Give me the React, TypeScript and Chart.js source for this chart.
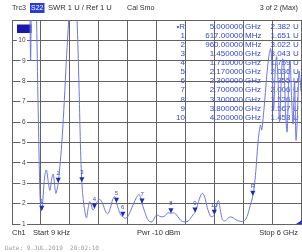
import React, { useEffect, useRef } from "react";
import { Chart, registerables } from "chart.js";

Chart.register(...registerables);

// ---- data ----
const traceFreqGHz = [
  0.0, 0.331, 0.368, 0.387, 0.4, 0.434, 0.486, 0.511, 0.548, 0.579, 0.6, 0.617,
  0.638, 0.672, 0.714, 0.751, 0.786, 0.824, 0.855, 0.886, 0.91, 0.935, 0.96,
  0.993, 1.035, 1.076, 1.117, 1.152, 1.179, 1.21, 1.262, 1.314, 1.351, 1.393, 1.424, 1.45,
  1.479, 1.514, 1.547, 1.579, 1.614, 1.645, 1.676, 1.71,
  1.759, 1.821, 1.883, 1.935, 1.986, 2.038, 2.09, 2.131, 2.17,
  2.214, 2.255, 2.3, 2.348, 2.4, 2.462, 2.524, 2.586, 2.638, 2.669, 2.7,
  2.741, 2.793, 2.855, 2.907, 2.959, 3.01, 3.062, 3.124, 3.186, 3.238, 3.3,
  3.352, 3.414, 3.476, 3.538, 3.6, 3.662, 3.714, 3.755, 3.8,
  3.848, 3.9, 3.952, 4.003, 4.055, 4.097, 4.138, 4.169, 4.2,
  4.241, 4.289, 4.324, 4.372, 4.428, 4.49, 4.535, 4.593, 4.655, 4.717, 4.779, 4.841, 4.893, 4.945, 5.0,
  5.038, 5.069, 5.1, 5.131, 5.162, 5.183, 5.214, 5.245, 5.276, 5.307, 5.338, 5.369, 5.4,
  5.431, 5.462, 5.493, 5.524, 5.555, 5.587, 5.618, 5.649, 5.68, 5.711, 5.742, 5.773,
  5.804, 5.835, 5.866, 5.897, 5.928, 5.959, 6.0,
];
const traceSWR = [
  14, 14, 12, 9.0, 11.5, 14, 14, 11, 6, 2.6, 1.75, 1.651,
  2.1, 3.2, 3.65, 3.1, 2.65, 3.2, 3.45, 2.9, 2.5, 2.7, 3.022,
  3.8, 5.0, 6.6, 8.5, 10.0, 11.0, 12, 13, 12.5, 11, 7.6, 4.6, 3.043,
  2.2, 1.6, 1.3, 1.75, 2.1, 1.95, 1.7, 1.759,
  2.05, 2.2, 2.0, 1.65, 1.5, 1.75, 2.2, 2.35, 2.036,
  1.7, 1.45, 1.355, 1.28, 1.35, 1.65, 2.0, 2.3, 2.45, 2.3, 2.006,
  1.7, 1.35, 1.12, 1.1, 1.3, 1.45, 1.38, 1.35, 1.42, 1.55, 1.526,
  1.55, 1.45, 1.25, 1.12, 1.1, 1.15, 1.3, 1.45, 1.567,
  1.9, 2.3, 2.5, 2.3, 1.8, 1.5, 1.35, 1.38, 1.453,
  1.9, 2.15, 1.7, 1.2, 1.15, 1.3, 1.35, 1.3, 1.2, 1.15, 1.12, 1.2, 1.45, 1.9, 2.382,
  3.0, 3.8, 4.8, 5.5, 5.85, 5.6, 6.2, 7.0, 7.9, 8.7, 9.3, 9.6, 8.6,
  6.6, 8.4, 9.2, 8.0, 6.0, 7.9, 9.1, 8.6, 6.5, 5.5, 7.8, 9.0,
  7.2, 5.9, 8.0, 5.1, 6.5, 8.5, 7.5,
];

const markerNames = ["R", "1", "2", "3", "4", "5", "6", "7", "8", "9", "10"];
const markerTableNames = ["•R", "1", "2", "3", "4", "5", "6", "7", "8", "9", "10"];
const markerFreqGHz = [5.0, 0.617, 0.96, 1.45, 1.71, 2.17, 2.3, 2.7, 3.3, 3.8, 4.2];
const markerFreqText = [
  "5.000000", "617.00000", "960.00000", "1.450000", "1.710000", "2.170000",
  "2.300000", "2.700000", "3.300000", "3.800000", "4.200000",
];
const markerFreqUnit = ["GHz", "MHz", "MHz", "GHz", "GHz", "GHz", "GHz", "GHz", "GHz", "GHz", "GHz"];
const markerSWR = [2.382, 1.651, 3.022, 3.043, 1.759, 2.036, 1.355, 2.006, 1.526, 1.567, 1.453];
const markerSWRText = ["2.382", "1.651", "3.022", "3.043", "1.759", "2.036", "1.355", "2.006", "1.526", "1.567", "1.453"];

const yTickValues = [1, 2, 3, 4, 5, 6, 7, 8, 9, 10];
const yTickLabels = ["1", "2", "3", "4", "5", "6", "7", "8", "9", "10"];
const xGridGHz = [0, 0.6, 1.2, 1.8, 2.4, 3.0, 3.6, 4.2, 4.8, 5.4, 6.0];
const yMin = 1;
const yMax = 11;
const refLevel = 1;

const headerTrace = "Trc3";
const headerParam = "S22";
const headerFormat = "SWR 1 U / Ref 1 U";
const headerCal = "Cal Smo";
const headerRight = "3 of 2 (Max)";
const footerChannel = "Ch1";
const footerStart = "Start 9 kHz";
const footerPower = "Pwr -10 dBm";
const footerStop = "Stop 6 GHz";
const footerDate = "Date: 9.JUL.2019  20:02:10";

const GRID = "#636363";
const TRACE = "#6c76dc";
const MARK = "#1c2cb4";
const TABLE = "#3848cc";
const TEXT = "#2e2e2e";
const SANS = "'Liberation Sans', Arial, sans-serif";

function text(ctx: CanvasRenderingContext2D, s: string, x: number, y: number, size: number, color: string, align: CanvasTextAlign = "left", family = SANS) {
  ctx.font = `${size}px ${family}`;
  ctx.fillStyle = color;
  ctx.textAlign = align;
  ctx.textBaseline = "middle";
  ctx.fillText(s, x, y);
}

const decor = {
  id: "vnaDecor",
  beforeDatasetsDraw(chart: any) {
    const ctx: CanvasRenderingContext2D = chart.ctx;
    const { left, top } = chart.chartArea;
    const ys = chart.scales.y;
    ctx.save();
    ctx.font = `6.5px ${SANS}`;
    yTickValues.forEach((v, i) => {
      const py = ys.getPixelForValue(v);
      const lab = yTickLabels[i];
      const w = ctx.measureText(lab).width;
      const rx = left + 13.5;
      ctx.fillStyle = "#ffffff";
      ctx.fillRect(rx - w - 1.5, py - 3, w + 3, 6);
      text(ctx, lab, rx, py, 6.5, "#444", "right");
    });
    ctx.fillStyle = "#1a1aa6";
    ctx.fillRect(left + 5, top + 4.5, 14.5, 8.5);
    for (let i = 0; i < markerTableNames.length; i++) {
      const ry = top + 6.5 + i * 9.1;
      text(ctx, markerTableNames[i], 185, ry, 8, TABLE, "right");
      text(ctx, markerFreqText[i], 243, ry, 8, TABLE, "right");
      text(ctx, markerFreqUnit[i], 245, ry, 8, TABLE, "left");
      text(ctx, markerSWRText[i], 290.5, ry, 8, TABLE, "right");
      text(ctx, "U", 293, ry, 8, TABLE, "left");
    }
    ctx.restore();
  },
  afterDatasetsDraw(chart: any) {
    const ctx: CanvasRenderingContext2D = chart.ctx;
    const xs = chart.scales.x;
    const ys = chart.scales.y;
    const { right } = chart.chartArea;
    ctx.save();
    for (let i = 0; i < markerNames.length; i++) {
      const px = xs.getPixelForValue(markerFreqGHz[i]);
      const py = ys.getPixelForValue(markerSWR[i]);
      ctx.beginPath();
      ctx.moveTo(px, py);
      ctx.lineTo(px - 2.6, py - 5);
      ctx.lineTo(px + 2.6, py - 5);
      ctx.closePath();
      ctx.fillStyle = MARK;
      ctx.fill();
      text(ctx, markerNames[i], px, py - 9.5, 6, TABLE, "center");
    }
    const ry = ys.getPixelForValue(refLevel);
    ctx.beginPath();
    ctx.moveTo(right - 5, ry);
    ctx.lineTo(right + 1, ry - 4);
    ctx.lineTo(right + 1, ry);
    ctx.closePath();
    ctx.fillStyle = "#2233cc";
    ctx.fill();
    ctx.restore();
  },
  afterDraw(chart: any) {
    const ctx: CanvasRenderingContext2D = chart.ctx;
    const { left, bottom } = chart.chartArea;
    ctx.save();
    text(ctx, headerTrace, left, 8, 7.2, TEXT, "left");
    ctx.fillStyle = "#2a3cd6";
    ctx.fillRect(30, 3, 14.5, 10);
    text(ctx, headerParam, 37.2, 8, 7, "#ffffff", "center");
    text(ctx, headerFormat, 48, 8, 7.6, TEXT, "left");
    text(ctx, headerCal, 127, 8, 7.2, TEXT, "left");
    text(ctx, headerRight, 298, 8, 7.2, TEXT, "right");
    text(ctx, footerChannel, left, bottom + 8.5, 7.5, TEXT, "left");
    text(ctx, footerStart, 33, bottom + 8.5, 7.5, TEXT, "left");
    text(ctx, footerPower, 137, bottom + 8.5, 7.5, TEXT, "left");
    text(ctx, footerStop, 298, bottom + 8.5, 7.5, TEXT, "right");
    text(ctx, footerDate, 5, 248, 6, "#9a9a9a", "left", "'DejaVu Sans Mono', monospace");
    ctx.restore();
  },
};

export default function App() {
  const ref = useRef<HTMLCanvasElement>(null);
  useEffect(() => {
    document.body.style.margin = "0";
    document.body.style.overflow = "hidden";
    const canvas = ref.current as HTMLCanvasElement;
    const chart = new Chart(canvas, {
      type: "line",
      data: {
        datasets: [
          {
            data: traceFreqGHz.map((f, i) => ({ x: f, y: traceSWR[i] })),
            borderColor: TRACE,
            borderWidth: 1,
            pointRadius: 0,
            cubicInterpolationMode: "monotone",
            fill: false,
          },
        ],
      },
      options: {
        responsive: false,
        animation: false,
        devicePixelRatio: 1,
        layout: { padding: { left: 12, right: 1, top: 20, bottom: 28 } },
        plugins: { legend: { display: false }, tooltip: { enabled: false } },
        scales: {
          x: {
            type: "linear",
            min: 0,
            max: 6,
            afterBuildTicks: (s: any) => {
              s.ticks = xGridGHz.map((v) => ({ value: v }));
            },
            ticks: { display: false },
            grid: { color: GRID, drawTicks: false, lineWidth: 1 },
            border: { color: GRID },
          },
          y: {
            type: "linear",
            min: yMin,
            max: yMax,
            ticks: { display: false, stepSize: 1 },
            grid: { color: GRID, drawTicks: false, lineWidth: 1 },
            border: { color: GRID },
          },
        },
      } as any,
      plugins: [decor],
    });
    return () => chart.destroy();
  }, []);
  return (
    <canvas
      ref={ref}
      width={302}
      height={252}
      style={{ display: "block", width: 302, height: 252 }}
    />
  );
}
